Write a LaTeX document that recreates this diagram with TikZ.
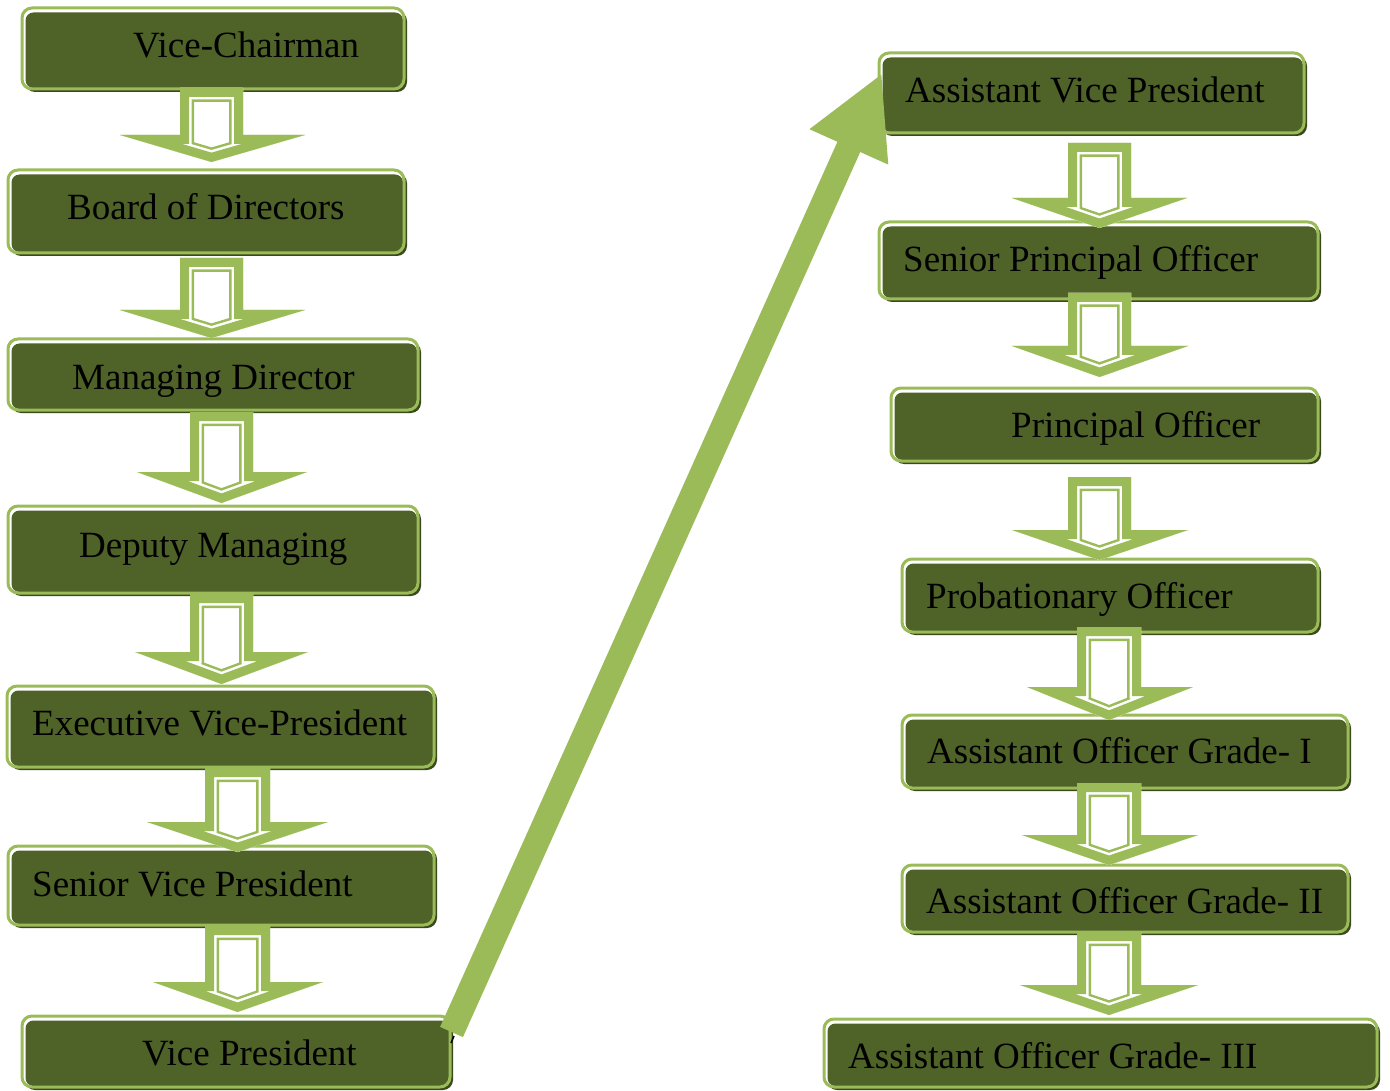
\documentclass[tikz,border=0pt]{standalone}
\usepackage{fontspec}
\setmainfont{Liberation Serif}
\usetikzlibrary{shadows,arrows.meta,calc}

\definecolor{leafgreen}{HTML}{9BBB59}
\definecolor{mossfill}{HTML}{4F6228}
\definecolor{mossshade}{HTML}{3A4A1C}

\tikzset{
  rankbox/.style={rectangle, rounded corners=10pt, fill=white, draw=leafgreen,
    line width=3pt, inner sep=0pt,
    drop shadow={shadow xshift=3pt, shadow yshift=-3pt, fill=mossshade, opacity=1},
    path picture={\fill[mossfill, rounded corners=8pt]
      ([xshift=3.5pt,yshift=-4.5pt]path picture bounding box.north west) rectangle
      ([xshift=-1pt,yshift=1pt]path picture bounding box.south east);}},
  ranktext/.style={anchor=base west, inner sep=0pt,
    font=\fontsize{37}{40}\selectfont, text=black},
  liftarrow/.style={leafgreen, line width=25pt,
    -{Triangle[length=81pt,width=80pt]}},
}

% one rank: name, left, top, right, bottom, text x, text baseline, text
\newcommand\rank[8]{%
  \node[rankbox, minimum width={(#4-#2)*1pt}, minimum height={(#5-#3)*1pt}]
    (#1) at ({(#2+#4)/2},{(#3+#5)/2}) {};
  \node[ranktext] (#1-label) at (#6,#7) {#8};
}

% hollow block arrow: shaft left, shaft right, shaft top, head top,
% head left, head right, tip
\newcommand\dropper[7]{%
  \def\outline{(#1,#3) -- (#2,#3) -- (#2,#4) -- (#6,#4) -- ({(#1+#2)/2},#7)
    -- (#5,#4) -- (#1,#4) -- cycle}
  \begin{scope}
    \clip \outline;
    \fill[white] \outline;
    \draw[leafgreen, line width=28pt, line join=miter] \outline;
    \draw[white, line width=23pt, line join=miter] \outline;
    \draw[leafgreen, line width=18pt, line join=miter] \outline;
  \end{scope}
}

\begin{document}
\begin{tikzpicture}[x=1pt,y=-1pt]
\useasboundingbox (0,0) rectangle (1390,1091);

% left column
\rank{vc}  {22}{8}  {404}{89}  {133}{58}  {Vice-Chairman}
\rank{bod} {8}{170} {404}{253} {67}{220}  {Board of Directors}
\rank{md}  {8}{339} {418}{410} {72}{389}  {Managing Director}
\rank{dmd} {8}{506} {418}{593} {79}{557}  {Deputy Managing}
\rank{evp} {7}{686} {434}{767} {32}{735}  {Executive Vice-President}
\rank{svp} {8}{846} {434}{925} {32}{896}  {Senior Vice President}
\rank{vp}  {22}{1016}{450}{1087}{142}{1065}{Vice President}

% right column
\rank{avp} {879}{53} {1304}{133} {905}{103}  {Assistant Vice President}
\rank{spo} {879}{222}{1318}{299} {903}{272}  {Senior Principal Officer}
\rank{po}  {891}{388}{1318}{461} {1011}{437} {Principal Officer}
\rank{pbo} {902}{559}{1318}{632} {926}{608}  {Probationary Officer}
\rank{ao1} {902}{715}{1348}{788} {927}{763}  {Assistant Officer Grade- I}
\rank{ao2} {902}{865}{1348}{932} {926}{913}  {Assistant Officer Grade- II}
\rank{ao3} {824}{1019}{1377}{1087}{848}{1068} {Assistant Officer Grade- III}

% downward steps, left column
\dropper{180}{243}{88}{135}{120}{305}{162}
\dropper{180}{243}{258}{310}{120}{305}{338}
\dropper{190}{253}{412}{472}{137}{307}{503}
\dropper{190}{253}{594}{652}{135}{308}{684}
\dropper{205}{270}{768}{822}{147}{328}{852}
\dropper{205}{270}{926}{982}{153}{323}{1012}

% downward steps, right column
\dropper{1068}{1131}{143}{198}{1012}{1187}{228}
\dropper{1068}{1131}{293}{346}{1012}{1188}{377}
\dropper{1068}{1131}{477}{530}{1012}{1188}{560}
\dropper{1077}{1141}{627}{687}{1027}{1193}{720}
\dropper{1077}{1141}{783}{835}{1022}{1198}{865}
\dropper{1077}{1141}{932}{985}{1020}{1198}{1015}

% the jump from the left column to the right column
\coordinate (lift-start) at (451.5,1032);
\coordinate (lift-end) at (882,73);
\draw[black, line width=1.5pt] ($(lift-start)+(2.5,4)$) -- ++(-3,7);
\draw[liftarrow] (lift-start) -- (lift-end);
\end{tikzpicture}
\end{document}
